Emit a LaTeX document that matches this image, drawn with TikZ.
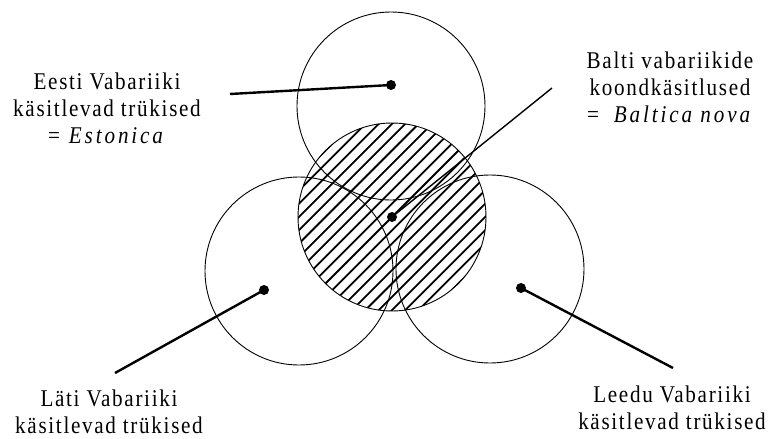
\documentclass[tikz,border=0pt]{standalone}
\usepackage{fontspec}
\setmainfont{Liberation Serif}[LetterSpace=7,FakeStretch=0.88,ItalicFeatures={LetterSpace=12}]
\begin{document}
\begin{tikzpicture}[x=1pt,y=1pt,
  ring/.style={circle, draw, line width=0.9pt, minimum size=188pt, inner sep=0pt},
  dotmark/.style={circle, fill, inner sep=0pt, minimum size=10pt},
  leader/.style={line width=2.4pt},
  thinleader/.style={line width=1.4pt},
  hatchline/.style={line width=1.8pt},
  lbl/.style={align=center, font=\fontsize{24}{27}\selectfont, inner sep=0pt, anchor=base}]
\useasboundingbox (0,0) rectangle (772,-439);
% hatching of the middle circle
\begin{scope}
  \clip (392,-217) circle (94);
  \foreach \k in {-15,...,15}
    \draw[hatchline] (392+\k*6.65-160,-217-\k*6.65-160) -- ++(320,320);
\end{scope}
% circles
\node[ring] (top) at (391,-106) {};
\node[ring] (mid) at (392,-217) {};
\node[ring] (left) at (299,-271) {};
\node[ring] (right) at (490,-269) {};
% dots
\node[dotmark] (dT) at (391,-85) {};
\node[dotmark] (dM) at (392,-217) {};
\node[dotmark] (dL) at (264,-290) {};
\node[dotmark] (dR) at (521,-288) {};
% leader ends
\coordinate (eT) at (230,-94);
\coordinate (eM) at (552,-88);
\coordinate (eL) at (115,-373);
\coordinate (eR) at (673,-368);
\draw[leader] (dT.center) -- (eT);
\draw[thinleader] (dM.center) -- (eM);
\draw[leader] (dL.center) -- (eL);
\draw[leader] (dR.center) -- (eR);
% labels (base anchor = baseline of last line)
\node[lbl] (tEesti) at (107,-143) {Eesti Vabariiki\\käsitlevad trükised\\=\hspace{2pt} \textit{Estonica}};
\node[lbl] (tBalti) at (670,-122) {Balti vabariikide\\koondkäsitlused\\=\hspace{8pt} \textit{Baltica nova}};
\node[lbl] (tLati) at (109,-433) {Läti Vabariiki\\käsitlevad trükised};
\node[lbl] (tLeedu) at (672,-429) {Leedu Vabariiki\\käsitlevad trükised};
\end{tikzpicture}
\end{document}
